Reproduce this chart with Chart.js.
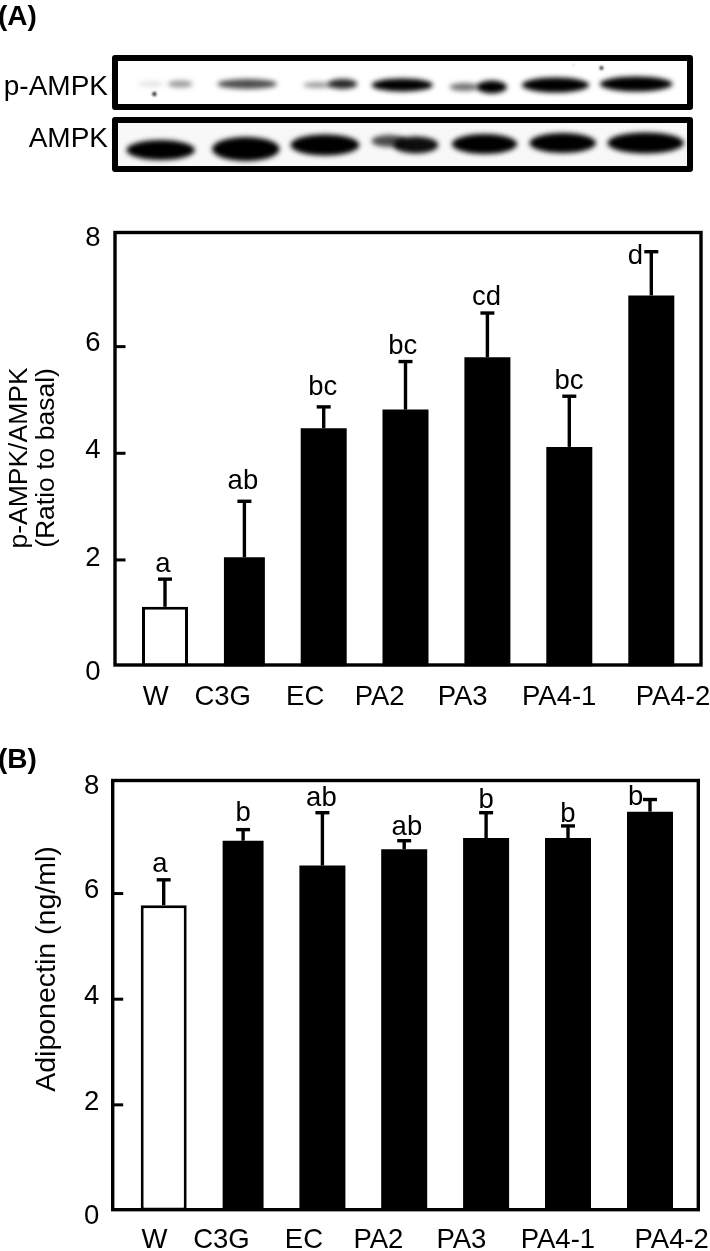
<!DOCTYPE html>
<html>
<head>
<meta charset="utf-8">
<style>
html,body{margin:0;padding:0;background:#fff;width:710px;height:1251px;overflow:hidden;font-family:"Liberation Sans",Arial,sans-serif;color:#000}
canvas{position:absolute;left:0;display:block}
.t{position:absolute;white-space:nowrap;line-height:1}
</style>
<script src="https://cdn.jsdelivr.net/npm/chart.js@4"></script>
</head>
<body>
<canvas id="blot" width="710" height="190" style="top:0"></canvas>
<canvas id="chartA" width="710" height="528" style="top:192px"></canvas>
<canvas id="chartB" width="710" height="511" style="top:740px"></canvas>
<div class="t" style="left:-2px;top:2px;font-size:28px;font-weight:bold">(A)</div>
<div class="t" style="left:-2px;top:745px;font-size:28px;font-weight:bold">(B)</div>
<div class="t" style="right:602px;top:72px;font-size:28px">p-AMPK</div>
<div class="t" style="right:602px;top:124px;font-size:28px">AMPK</div>
<script>
// ---- data ----
const categories = ["W","C3G","EC","PA2","PA3","PA4-1","PA4-2"];
const tickValues = [0,2,4,6,8];
const aValues = [1.12,2.05,4.47,4.82,5.80,4.12,6.96];
const aErrors = [0.52,1.05,0.40,0.90,0.83,0.95,0.82];
const aLetters = ["a","ab","bc","bc","cd","bc","d"];
const bValues = [5.78,7.00,6.53,6.84,7.05,7.05,7.55];
const bErrors = [0.48,0.21,1.00,0.16,0.48,0.23,0.23];
const bLetters = ["a","b","ab","ab","b","b","b"];
const aTitle = ["p-AMPK/AMPK","(Ratio to basal)"];
const bTitle = ["Adiponectin (ng/ml)"];

// ---- small placement offsets (style, not data) ----
const barShift = [0,-1.6,-3.3,-2.5,-1.6,-0.7,0.3];
const barWidthScale = [1,0.89,1,1,1,1,1];
const xLabelShift = [-9.3,-23.3,-21.8,-28.3,-26.3,-10.8,22];
const yLabelShift = [6,-2,-3,-3,-1.5];
const aLetterDx = [-2,-1.5,-1,-2.7,-0.8,-0.3,-16];
const aLetterDy = [-7.3,-12,-11.7,-7.7,-7.6,-7.3,12.3];
const bLetterDx = [-3.7,0,-1,2.7,0,0,-14.3];
const bLetterDy = [-8.3,-9,-6.6,-5.7,-4.7,-4,5.7];

const FONT = '"Liberation Sans", Arial, sans-serif';

const panelPlugin = {
  id:'panel',
  afterDatasetsUpdate(chart){
    const meta = chart.getDatasetMeta(0);
    meta.data.forEach((el,i)=>{
      el.x += barShift[i];
      el.width *= barWidthScale[i];
    });
  },
  afterUpdate(chart){
    chart.scales.x.getLabelItems().forEach((it,i)=>{ it.options.translation[0] += xLabelShift[i]; });
    chart.scales.y.getLabelItems().forEach((it,i)=>{ it.options.translation[1] += yLabelShift[i]; });
  },
  afterDraw(chart,args,o){
    const c = chart.ctx, a = chart.chartArea, y = chart.scales.y;
    const ds = chart.data.datasets[0], meta = chart.getDatasetMeta(0);
    c.save();
    c.strokeStyle = '#000'; c.fillStyle = '#000';
    // error bars
    meta.data.forEach((el,i)=>{
      const top = y.getPixelForValue(ds.data[i] + ds.errors[i]);
      c.lineWidth = 3.4;
      c.beginPath(); c.moveTo(el.x, el.y); c.lineTo(el.x, top); c.stroke();
      c.beginPath(); c.moveTo(el.x-7, top); c.lineTo(el.x+7, top); c.stroke();
      c.font = '27.5px '+FONT; c.textAlign='center'; c.textBaseline='alphabetic';
      c.fillText(ds.letters[i], el.x + o.letterDx[i], top + o.letterDy[i]);
    });
    // frame
    c.lineWidth = 3.4; c.lineJoin='miter';
    const L = a.left + o.frame[0], R = a.right + o.frame[1], T = a.top, B = a.bottom + o.frame[2];
    c.strokeRect(L,T,R-L,B-T);
    // inner tick marks
    c.lineWidth = 3;
    tickValues.slice(1,4).forEach(v=>{
      const p = y.getPixelForValue(v);
      c.beginPath(); c.moveTo(L,p); c.lineTo(L+10.5,p); c.stroke();
    });
    // axis title
    o.title.forEach((t,i)=>{
      c.save();
      c.translate(o.titleX[i], o.titleY);
      c.rotate(-Math.PI/2);
      c.font = o.titleSize+'px '+FONT; c.textAlign='center'; c.textBaseline='middle';
      c.fillText(t,0,0);
      c.restore();
    });
    c.restore();
  }
};

function makeChart(id, values, errors, letters, cfg){
  return new Chart(document.getElementById(id),{
    type:'bar',
    data:{labels:categories,datasets:[{
      data:values, errors:errors, letters:letters,
      backgroundColor:values.map((v,i)=>i===0?'#fff':'#000'),
      borderColor:'#000',
      borderWidth:values.map((v,i)=>i===0?3:0),
      borderSkipped:false,
      barPercentage:46/81, categoryPercentage:1
    }]},
    options:{
      responsive:false, animation:false, devicePixelRatio:1,
      layout:{padding:{left:0,right:cfg.right,top:cfg.top,bottom:0}},
      plugins:{legend:{display:false},tooltip:{enabled:false},panel:cfg.panel},
      scales:{
        x:{
          type:'category', offset:true,
          grid:{display:false,drawTicks:false}, border:{display:false},
          ticks:{color:'#000',font:{family:FONT,size:27.5},padding:cfg.xPad,maxRotation:0,minRotation:0,autoSkip:false},
          afterFit(s){s.height=cfg.xHeight;}
        },
        y:{
          type:'linear', min:0, max:8.14,
          grid:{display:false,drawTicks:false}, border:{display:false},
          ticks:{color:'#000',font:{family:FONT,size:27.5},padding:24},
          afterBuildTicks(s){s.ticks=tickValues.map(v=>({value:v}));},
          afterFit(s){s.width=cfg.yWidth;}
        }
      }
    },
    plugins:[panelPlugin]
  });
}

makeChart('chartA',aValues,aErrors,aLetters,{
  right:18.5, top:40, xHeight:53.4, yWidth:124.5, xPad:14,
  panel:{letterDx:aLetterDx,letterDy:aLetterDy,frame:[-9.5,9.5,-1.6],title:aTitle,titleX:[20,47],titleY:266,titleSize:26.5}
});
makeChart('chartB',bValues,bErrors,bLetters,{
  right:19.8, top:40, xHeight:37.5, yWidth:123.2, xPad:13,
  panel:{letterDx:bLetterDx,letterDy:bLetterDy,frame:[-10.5,8.1,-0.8],title:bTitle,titleX:[47],titleY:229,titleSize:28.5}
});

// ---- western blot picture above the chart ----
const zx = z => 112 + (z-246)*0.4507;
const pBands = [[305,360,84,2.5,0.12],[370,425,84,3.5,0.4],[480,612,84,5,0.7],[670,735,85,3,0.4],[725,790,84,5,0.85],
  [822,958,85,6.5,1],[995,1060,87,4,0.55],[1055,1122,87,6.5,1],[1155,1305,85,7.5,1],[1328,1490,84,7.5,1]];
const tBands = [[278,430,150,10,1],[468,618,149,12,1],[642,795,145,10.5,1],[822,900,141,6,0.7],[870,970,145,8.5,0.95],[1000,1145,144,10,1],[1172,1320,143,10,1],[1345,1515,143,10.5,1]];
const specks = [[340,94,2.2,0.8],[1332,68,2,0.8],[1270,65,1.2,0.15]];
(function(){
  const c = document.getElementById('blot').getContext('2d');
  c.fillStyle='#fff'; c.fillRect(115,58,575,49);
  c.fillStyle='#f8f8f8'; c.fillRect(115,120,575,49);
  c.save();
  c.beginPath(); c.rect(115,58,575,111); c.clip();
  c.filter='blur(2.8px)';
  pBands.concat(tBands).forEach(b=>{
    const x0=zx(b[0]),x1=zx(b[1]);
    c.fillStyle='rgba(0,0,0,'+b[4]+')';
    c.beginPath(); c.ellipse((x0+x1)/2,b[2],(x1-x0)/2,b[3],0,0,Math.PI*2); c.fill();
  });
  c.filter='blur(1px)';
  specks.forEach(s=>{
    c.fillStyle='rgba(0,0,0,'+s[3]+')';
    c.beginPath(); c.arc(zx(s[0]),s[1],s[2],0,Math.PI*2); c.fill();
  });
  c.restore();
  c.strokeStyle='#000'; c.lineWidth=6; c.lineJoin='round';
  c.strokeRect(115,58,575,49);
  c.strokeRect(115,120,575,49);
})();
</script>
</body>
</html>
